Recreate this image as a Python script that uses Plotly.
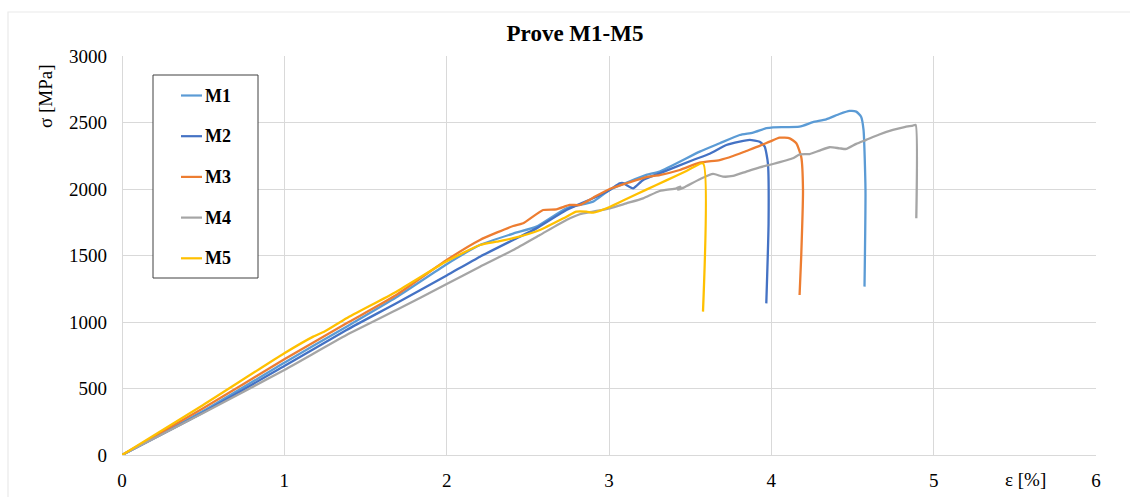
import plotly.graph_objects as go

# Stress-strain curves of specimens M1-M5 (strain in %, stress in MPa)
names = ["M1", "M2", "M3", "M4", "M5"]
colors = ["#5B9BD5", "#4472C4", "#ED7D31", "#A5A5A5", "#FFC000"]

m1_strain = [0, 0.5, 1.0, 1.383, 1.69, 2.0, 2.205, 2.41, 2.553, 2.738, 2.902, 3.004, 3.23, 3.312,
             3.559, 3.682, 3.805, 3.887, 3.969, 4.010, 4.174, 4.256, 4.338, 4.420, 4.482, 4.523,
             4.553, 4.568, 4.580, 4.574]
m1_stress = [0, 330, 694, 965, 1186, 1435, 1579, 1665, 1717, 1855, 1905, 1993, 2106, 2131,
             2281, 2344, 2406, 2424, 2457, 2464, 2469, 2502, 2524, 2564, 2587, 2582,
             2544, 2444, 1993, 1266]

m2_strain = [0, 0.5, 1.0, 1.383, 1.69, 2.0, 2.205, 2.41, 2.553, 2.738, 2.902, 3.004, 3.066, 3.087,
             3.107, 3.148, 3.21, 3.312, 3.518, 3.62, 3.723, 3.805, 3.867, 3.928, 3.959, 3.979,
             3.983, 3.969]
m2_stress = [0, 320, 669, 940, 1141, 1350, 1491, 1617, 1704, 1842, 1930, 1993, 2043, 2045,
             2030, 2005, 2068, 2118, 2218, 2265, 2331, 2356, 2369, 2356, 2319, 2193,
             1742, 1140]

m3_strain = [0, 0.5, 1.0, 1.383, 1.69, 2.0, 2.205, 2.41, 2.471, 2.594, 2.676, 2.758, 2.82, 2.902,
             3.004, 3.107, 3.23, 3.312, 3.436, 3.559, 3.682, 3.764, 3.846, 3.928, 3.99, 4.051,
             4.113, 4.154, 4.184, 4.195, 4.184, 4.174]
m3_stress = [0, 351, 720, 990, 1203, 1466, 1617, 1722, 1742, 1842, 1847, 1880, 1880, 1935,
             2000, 2043, 2090, 2105, 2143, 2198, 2218, 2248, 2286, 2324, 2356, 2386,
             2381, 2344, 2243, 1993, 1491, 1203]

m4_strain = [0, 0.5, 1.0, 1.383, 1.69, 2.0, 2.205, 2.41, 2.574, 2.738, 2.82, 2.902, 3.005, 3.107,
             3.21, 3.312, 3.415, 3.44, 3.425, 3.46, 3.559, 3.641, 3.702, 3.764, 3.846, 3.928,
             4.01, 4.133, 4.175, 4.236, 4.297, 4.359, 4.42, 4.462, 4.523, 4.584, 4.665, 4.749,
             4.82, 4.872, 4.889, 4.893]
m4_stress = [0, 316, 639, 902, 1090, 1285, 1416, 1541, 1654, 1767, 1810, 1830, 1855, 1892,
             1930, 1985, 2005, 2018, 1995, 2010, 2073, 2113, 2093, 2098, 2131, 2163,
             2188, 2231, 2260, 2263, 2289, 2314, 2306, 2301, 2339, 2369, 2410, 2444,
             2465, 2477, 2482, 1780]

m5_strain = [0, 0.5, 1.0, 1.178, 1.25, 1.383, 1.69, 2.0, 2.205, 2.307, 2.41, 2.574, 2.738, 2.799,
             2.861, 2.902, 3.004, 3.107, 3.23, 3.353, 3.477, 3.579, 3.579]
m5_stress = [0, 376, 765, 890, 930, 1028, 1228, 1456, 1579, 1604, 1630, 1692, 1792, 1830,
             1830, 1822, 1865, 1925, 1995, 2065, 2135, 2193, 1078]

strains = [m1_strain, m2_strain, m3_strain, m4_strain, m5_strain]
stresses = [m1_stress, m2_stress, m3_stress, m4_stress, m5_stress]

x_ticks = [0, 1, 2, 3, 4, 5, 6]
y_ticks = [0, 500, 1000, 1500, 2000, 2500, 3000]

W, H = 1130, 497
L, R, T, B = 122, 34, 56, 42
FONT = "Liberation Serif, Times New Roman, serif"
GRID = "#D9D9D9"


def xp(px):
    """pixel column -> paper x"""
    return (px - L) / (W - L - R)


def yp(py):
    """pixel row -> paper y"""
    return (H - B - py) / (H - T - B)


fig = go.Figure()
for name, color, xs, ys in zip(names, colors, strains, stresses):
    fig.add_trace(go.Scatter(x=xs, y=ys, mode="lines", name=name,
                             line=dict(color=color, width=2.3, shape="spline", smoothing=0.5),
                             showlegend=False))

shapes = []
annotations = []

# outer chart frame
shapes.append(dict(type="rect", xref="paper", yref="paper",
                   x0=xp(8), x1=xp(W + 10), y0=yp(H + 10), y1=yp(12),
                   line=dict(color="#EAEAEA", width=1.2), fillcolor="rgba(0,0,0,0)", layer="below"))

# legend box
shapes.append(dict(type="rect", xref="paper", yref="paper",
                   x0=xp(153), x1=xp(258), y0=yp(278), y1=yp(75),
                   line=dict(color="#404040", width=1), fillcolor="white", layer="above"))
for i, (name, color) in enumerate(zip(names, colors)):
    row = 95.5 + 40.7 * i
    shapes.append(dict(type="line", xref="paper", yref="paper",
                       x0=xp(181), x1=xp(202), y0=yp(row), y1=yp(row),
                       line=dict(color=color, width=2.2), layer="above"))
    annotations.append(dict(text=f"<b>{name}</b>", xref="paper", yref="paper",
                            x=xp(203), y=yp(row), xanchor="left", yanchor="middle",
                            showarrow=False, font=dict(family=FONT, size=18, color="black")))

# axis titles
annotations.append(dict(text="σ [MPa]", xref="paper", yref="paper", x=xp(45), y=yp(96),
                        textangle=-90, showarrow=False, xanchor="center", yanchor="middle",
                        font=dict(family=FONT, size=19, color="black")))
annotations.append(dict(text="ε [%]", xref="paper", yref="paper", x=xp(1025), y=yp(479),
                        showarrow=False, xanchor="center", yanchor="middle",
                        font=dict(family=FONT, size=19, color="black")))

fig.update_layout(
    width=W, height=H,
    margin=dict(l=L, r=R, t=T, b=B, autoexpand=False),
    paper_bgcolor="white", plot_bgcolor="white",
    title=dict(text="<b>Prove M1-M5</b>", x=575 / W, y=1 - 33 / H,
               xanchor="center", yanchor="middle",
               font=dict(family=FONT, size=23, color="black")),
    xaxis=dict(range=[0, 6], tickvals=x_ticks, showgrid=True, gridcolor=GRID, gridwidth=1,
               zeroline=True, zerolinecolor=GRID, zerolinewidth=1, showline=False,
               ticks="", ticklabelstandoff=12, automargin=False,
               tickfont=dict(family=FONT, size=19, color="black")),
    yaxis=dict(range=[0, 3000], tickvals=y_ticks, showgrid=True, gridcolor=GRID, gridwidth=1,
               zeroline=True, zerolinecolor=GRID, zerolinewidth=1, showline=False,
               ticks="", ticklabelstandoff=14, automargin=False,
               tickfont=dict(family=FONT, size=19, color="black")),
    shapes=shapes,
    annotations=annotations,
    showlegend=False,
)

fig.write_html("out.html")
